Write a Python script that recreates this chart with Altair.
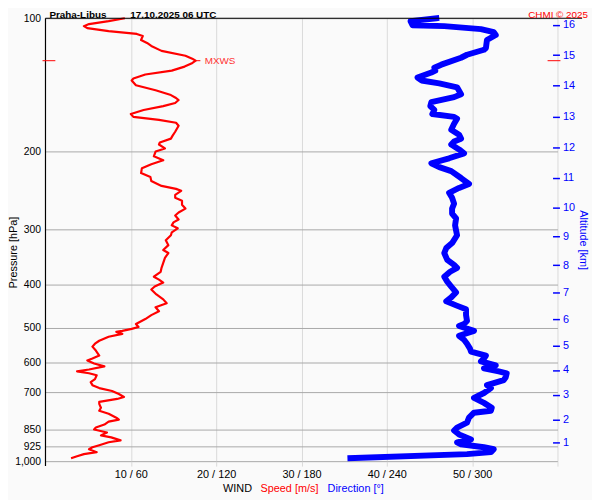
import altair as alt
import pandas as pd

# ---- data ----
speed_p = [100.0, 101.5, 103.1, 104.2, 105.3, 106.9, 108.5, 109.7, 110.8, 112.0,
           113.7, 115.5, 118.5, 121.5, 123.4, 124.7, 126.6, 128.6, 131.3, 134.0,
           136.8, 138.2, 141.7, 145.4, 149.1, 151.4, 153.0, 155.4, 157.9, 161.1,
           164.5, 167.0, 169.6, 172.2, 174.9, 180.4, 184.1, 187.0, 190.8, 192.8,
           196.8, 200.0, 205.0, 209.3, 213.6, 218.0, 223.7, 228.4, 233.1, 239.1,
           242.8, 245.3, 250.4, 254.3, 258.2, 263.6, 269.0, 274.6, 278.9, 284.7,
           289.0, 293.5, 298.1, 304.3, 309.0, 317.0, 325.3, 333.7, 338.9, 347.7,
           356.8, 366.0, 373.6, 383.3, 389.2, 395.2, 403.4, 409.6, 420.3, 431.2,
           440.1, 449.3, 458.6, 468.0, 477.7, 490.1, 497.8, 502.8, 508.0, 510.6,
           515.9, 523.9, 534.8, 543.0, 551.4, 562.8, 577.5, 586.4, 592.5, 601.7,
           611.0, 620.8, 627.0, 633.3, 639.9, 653.0, 663.2, 673.6, 683.9, 694.5,
           705.3, 716.2, 723.6, 734.8, 742.4, 757.7, 769.5, 781.4, 797.6, 805.8,
           814.1, 826.8, 839.6, 848.3, 861.3, 874.6, 883.7, 897.7, 906.6, 920.6,
           930.2, 939.8, 954.3, 964.2, 974.6, 984.7]
speed_v = [9.3, 7.4, 5.1, 4.5, 4.9, 7.4, 10.7, 11.4, 11.3, 11.2,
           11.9, 12.4, 13.6, 16.4, 17.2, 17.6, 17.1, 16.3, 14.8, 11.7,
           10.3, 10.1, 10.6, 12.9, 14.7, 15.3, 15.6, 15.2, 13.8, 11.5,
           10.0, 10.3, 13.3, 15.3, 15.6, 15.2, 14.9, 14.7, 13.4, 13.3,
           14.0, 12.9, 12.7, 13.8, 12.4, 11.3, 11.2, 12.3, 12.4, 13.6,
           15.3, 15.9, 15.2, 15.2, 16.0, 16.0, 16.4, 15.6, 15.2, 15.6,
           15.0, 14.8, 15.5, 14.8, 14.7, 14.1, 14.4, 13.8, 14.4, 14.0,
           13.8, 13.6, 13.5, 12.7, 13.3, 13.8, 12.8, 12.4, 13.0, 13.8,
           14.2, 12.9, 13.3, 12.4, 11.7, 10.6, 10.9, 10.1, 9.0, 8.3,
           9.0, 7.4, 6.3, 5.8, 5.5, 5.9, 6.3, 5.5, 4.9, 5.7,
           6.9, 5.1, 3.7, 5.1, 6.0, 5.8, 5.3, 5.5, 6.3, 7.8,
           8.6, 9.2, 8.4, 6.3, 6.3, 6.5, 6.3, 7.4, 8.3, 8.6,
           7.4, 6.9, 5.9, 5.7, 7.2, 6.5, 7.7, 8.8, 7.4, 6.3,
           5.5, 5.1, 6.0, 4.5, 3.7, 3.0]

dir_p = [100.0, 101.5, 103.7, 104.2, 105.8, 107.5, 109.1, 112.0, 116.7, 117.8,
         120.9, 122.8, 127.3, 129.3, 131.3, 132.6, 136.1, 138.2, 140.3, 143.2,
         148.4, 150.7, 154.7, 157.9, 161.1, 164.5, 167.0, 168.7, 173.1, 178.6,
         183.2, 187.0, 189.8, 192.8, 197.8, 201.9, 207.1, 212.5, 216.9, 221.4,
         229.5, 236.7, 241.6, 247.8, 254.3, 262.2, 269.0, 276.0, 283.2, 293.5,
         301.2, 309.0, 321.9, 330.3, 338.9, 351.3, 360.4, 366.0, 373.6, 383.3,
         393.2, 403.4, 416.0, 426.8, 435.7, 444.9, 453.9, 468.0, 482.6, 490.1,
         495.2, 508.0, 521.2, 532.0, 543.0, 557.1, 565.7, 577.5, 586.4, 595.5,
         607.9, 617.3, 626.9, 633.3, 646.4, 656.3, 666.6, 673.6, 683.9, 701.7,
         719.9, 738.6, 757.7, 769.5, 777.4, 797.6, 818.3, 839.6, 852.6, 870.2,
         892.9, 906.6, 916.0, 930.2, 939.8, 954.3, 964.2, 984.7]
dir_d = [274.8, 256.7, 258.1, 280.4, 306.2, 315.2, 316.6, 310.4, 309.7, 308.3,
         296.4, 292.2, 278.3, 273.4, 274.1, 271.3, 261.6, 264.4, 276.9, 289.4,
         292.2, 287.3, 271.3, 270.6, 273.4, 272.0, 287.3, 289.4, 287.3, 285.3,
         290.8, 292.2, 287.3, 285.3, 290.8, 294.3, 283.8, 271.3, 276.9, 285.3,
         292.2, 297.8, 290.8, 283.8, 285.9, 287.3, 285.9, 285.9, 288.7, 288.0,
         288.7, 289.4, 285.9, 281.8, 280.4, 282.5, 287.3, 289.4, 284.5, 280.4,
         282.5, 285.3, 288.7, 285.3, 281.8, 288.7, 295.7, 295.7, 296.4, 294.3,
         290.8, 301.3, 290.8, 294.3, 296.4, 298.5, 299.2, 309.7, 308.3, 306.2,
         316.6, 308.3, 318.7, 324.3, 323.6, 322.2, 315.2, 310.4, 313.2, 308.3,
         301.3, 308.3, 313.8, 313.2, 301.3, 297.8, 296.4, 289.4, 287.3, 290.8,
         299.2, 289.4, 292.2, 308.3, 315.2, 313.2, 296.4, 214.4]

p_ticks = [100, 200, 300, 400, 500, 600, 700, 850, 925, 1000]
km_labels = ["1", "2", "3", "4", "5", "6", "7", "8", "9", "10", "11", "12", "13", "14", "15", "16"]
km_p = [908.2, 804.6, 707.9, 622.7, 547.8, 478.5, 416.0, 361.0, 311.1, 268.1,
        229.1, 195.4, 166.6, 141.9, 121.1, 103.5]
spd_ticks = [10, 20, 30, 40, 50, 60]
dir_ticks = [60, 120, 180, 240, 300, 360]
mxws_p = [124.7]
mxws_v = [17.5]

FONT = "Liberation Sans"
W, H = 519, 449

spd_df = pd.DataFrame({"p": speed_p, "v": speed_v})
dir_df = pd.DataFrame({"p": dir_p, "d": dir_d})
mx_df = pd.DataFrame({"p": mxws_p, "v": mxws_v})
one = pd.DataFrame({"a": [0]})

yscale = alt.Scale(type="log", domain=[100, 1000], reverse=True, nice=False)
xs = alt.Scale(domain=[0, 60], nice=False, zero=False)
xd = alt.Scale(domain=[0, 360], nice=False, zero=False)

x_labels = [f"{s} / {d}" if s < 60 else "" for s, d in zip(spd_ticks, dir_ticks)]
x_expr = "[" + ",".join(f"'{l}'" for l in x_labels) + "][indexof([" + ",".join(str(v) for v in spd_ticks) + "], datum.value)]"
km_expr = "[" + ",".join(f"'{l}'" for l in km_labels) + "][indexof([" + ",".join(str(v) for v in km_p) + "], datum.value)]"

red = alt.Chart(spd_df).mark_line(color="#ff0000", strokeWidth=2.2, strokeJoin="round").encode(
    x=alt.X("v:Q", scale=xs, axis=alt.Axis(
        values=spd_ticks, labelExpr=x_expr, title=None, grid=True, gridColor="#d9d9d9",
        domain=False, tickColor="#d9d9d9", tickSize=5, labelFont=FONT, labelFontSize=11,
        labelColor="#000000", labelPadding=3, labelFlush=False)),
    y=alt.Y("p:Q", scale=yscale, axis=alt.Axis(
        values=p_ticks, title="Pressure [hPa]", titleFont=FONT, titleFontSize=11,
        titleFontWeight="normal", titleColor="#000000", titleAngle=270,
        titleX=-29, titleY=237, titleAlign="center", titleBaseline="alphabetic",
        grid=True, gridColor="#a8a8a8", ticks=False, domain=False,
        labelFont=FONT, labelFontSize=10.5, labelColor="#000000", labelPadding=5,
        labelFlush=False, labelOverlap=False)),
    order=alt.Order("p:Q"),
)

blue = alt.Chart(dir_df).mark_line(color="#0000ff", strokeWidth=6, strokeJoin="round", strokeCap="square").encode(
    x=alt.X("d:Q", scale=xd, axis=None),
    y=alt.Y("p:Q", scale=yscale, axis=alt.Axis(
        orient="right", values=km_p, labelExpr=km_expr, title="Altitude [km]",
        titleFont=FONT, titleFontSize=11, titleFontWeight="normal", titleColor="#0000ff",
        titlePadding=3, grid=False, domain=False, offset=-5, tickColor="#0000ff",
        tickSize=7, tickWidth=1.5, labelFont=FONT, labelFontSize=11, labelColor="#0000ff",
        labelPadding=3, labelFlush=False, labelOverlap=False)),
    order=alt.Order("p:Q"),
)

top_line = alt.Chart(one).mark_rule(color="#000000", strokeWidth=1.2).encode(
    x=alt.value(0), x2=alt.value(544), y=alt.value(0))
left_line = alt.Chart(one).mark_rule(color="#000000", strokeWidth=1.2).encode(
    x=alt.value(0), y=alt.value(0), y2=alt.value(454))

mx_left = alt.Chart(mx_df).mark_rule(color="#ff0000", strokeWidth=1).encode(
    x=alt.value(-3), x2=alt.value(10), y=alt.Y("p:Q", scale=yscale, axis=None))
mx_right = alt.Chart(mx_df).mark_rule(color="#ff0000", strokeWidth=1).encode(
    x=alt.value(509), x2=alt.value(522), y=alt.Y("p:Q", scale=yscale, axis=None))
mx_tick = alt.Chart(mx_df).mark_rule(color="#ff0000", strokeWidth=1).encode(
    x=alt.X("v:Q", scale=xs, axis=None), x2=alt.value(157), y=alt.Y("p:Q", scale=yscale, axis=None))
mx_text = alt.Chart(mx_df).mark_text(text="MXWS", color="#ff3333", font=FONT, fontSize=10,
                                      align="left", baseline="middle", dx=10).encode(
    x=alt.X("v:Q", scale=xs, axis=None), y=alt.Y("p:Q", scale=yscale, axis=None))

def label(txt, x, y, color="#000000", size=11, weight="normal", align="left", baseline="middle"):
    return alt.Chart(one).mark_text(text=txt, color=color, font=FONT, fontSize=size,
                                    fontWeight=weight, align=align, baseline=baseline).encode(
        x=alt.value(x), y=alt.value(y))

t1 = label("Praha-Libus", 4, -0.6, size=10, weight="bold", baseline="alphabetic")
t2 = label("17.10.2025 06 UTC", 86, -0.6, size=10, weight="bold", baseline="alphabetic")
t3 = label("CHMI © 2025", 550, -0.6, color="#ff0000", size=10, align="right", baseline="alphabetic")
w1 = label("WIND", 180, 477)
w2 = label("Speed [m/s]", 218, 477, color="#ff0000")
w3 = label("Direction [°]", 286, 477, color="#0000ff")

chart = alt.layer(
    red, blue, top_line, left_line, mx_left, mx_right, mx_tick, mx_text, t1, t2, t3, w1, w2, w3
).resolve_scale(x="independent", y="independent").properties(
    width=W, height=H,
    autosize=alt.AutoSizeParams(type="none"),
    padding={"left": 38, "top": 7, "right": 35, "bottom": 36},
    background="#fafafa",
).configure_view(strokeWidth=0)

chart.save("out.html", embed_options={"renderer": "svg", "actions": False})
